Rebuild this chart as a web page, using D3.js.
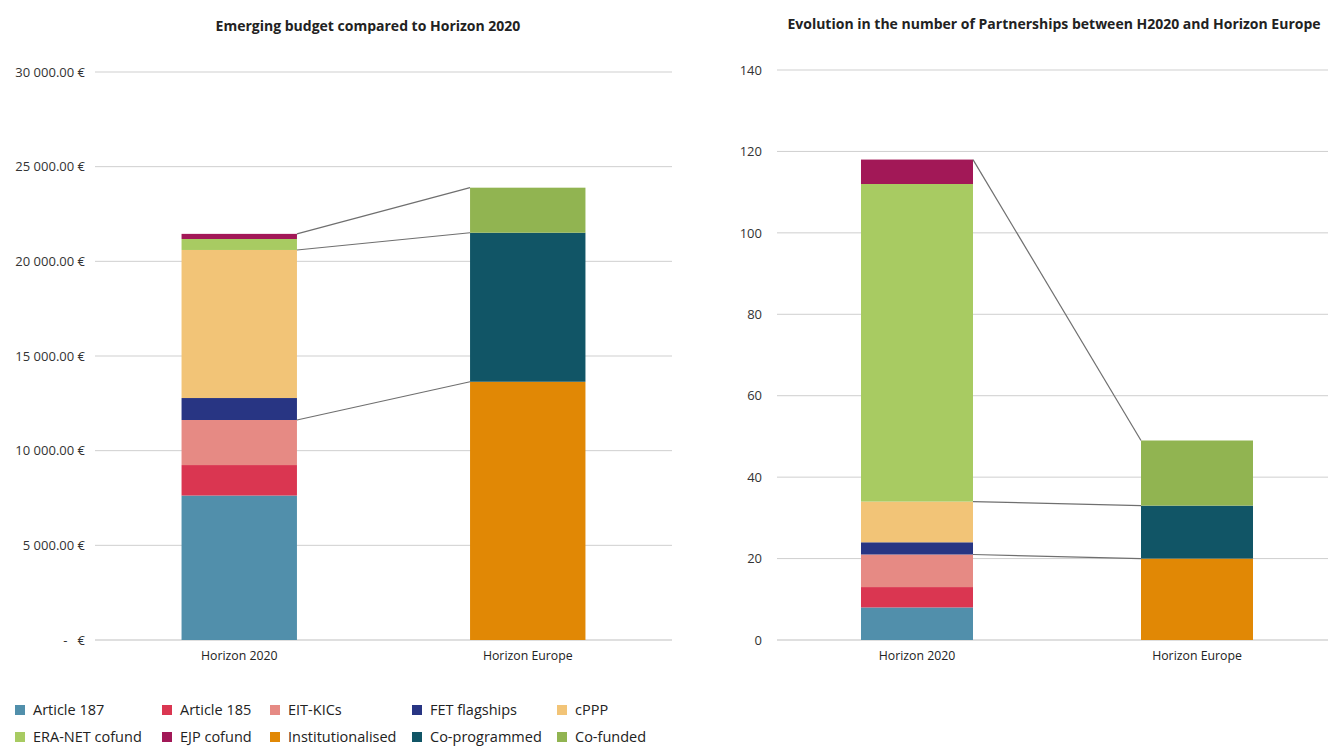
<!DOCTYPE html>
<html><head><meta charset="utf-8">
<script src="https://cdn.jsdelivr.net/npm/d3@7"></script>
<style>
body{margin:0;background:#fff;}
svg{font-family:"Open Sans",Roboto,sans-serif;}
</style></head>
<body>
<svg id="c" width="1328" height="747"></svg>
<script>
const programmes = ["Horizon 2020", "Horizon Europe"];
const seriesNames = ["Article 187","Article 185","EIT-KICs","FET flagships","cPPP","ERA-NET cofund","EJP cofund","Institutionalised","Co-programmed","Co-funded"];
const seriesColors = ["#518fab","#da3651","#e68a84","#283583","#f2c477","#a8cb62","#a21857","#e18805","#115566","#91b451"];
// budget (M€)
const budgetH2020 = [7630, 1610, 2380, 1160, 7820, 580, 270, 0, 0, 0];
const budgetHE    = [0, 0, 0, 0, 0, 0, 0, 13640, 7870, 2380];
// number of partnerships
const countH2020 = [8, 5, 8, 3, 10, 78, 6, 0, 0, 0];
const countHE    = [0, 0, 0, 0, 0, 0, 0, 20, 13, 16];
const budgetTicks = [0, 5000, 10000, 15000, 20000, 25000, 30000];
const countTicks = [0, 20, 40, 60, 80, 100, 120, 140];
// connectors: top of series in H2020 -> top of series in HE
const links = [["EIT-KICs","Institutionalised"],["cPPP","Co-programmed"],["EJP cofund","Co-funded"]];

const svg = d3.select("#c");
const color = d3.scaleOrdinal(seriesNames, seriesColors);

function rows(a, b){
  const r1 = {prog: programmes[0]}, r2 = {prog: programmes[1]};
  seriesNames.forEach((k,i)=>{ r1[k]=a[i]; r2[k]=b[i]; });
  return [r1, r2];
}

function drawChart(opt){
  const g = svg.append("g");
  const data = rows(opt.a, opt.b);
  const stacked = d3.stack().keys(seriesNames)(data);
  const x = d3.scaleBand().domain(programmes).range([opt.x0, opt.x1]).paddingInner(0.6).paddingOuter(0.3);
  const y = d3.scaleLinear().domain([0, opt.max]).range([640, opt.yTop]);

  // gridlines
  g.append("g").selectAll("line").data(opt.ticks).join("line")
    .attr("x1", opt.gx0).attr("x2", opt.gx1)
    .attr("y1", d=>y(d)).attr("y2", d=>y(d))
    .attr("stroke", d=> d===0 ? "#d4d4d4" : "#cfcfcf")
    .attr("stroke-width", d=> d===0 ? 1.5 : 1);

  // y labels
  const yAxis = d3.axisLeft(y).tickValues(opt.ticks).tickSize(0).tickFormat(opt.fmt);
  const ya = g.append("g").attr("transform", `translate(${opt.labelX},0)`).call(yAxis);
  ya.select(".domain").remove();
  ya.selectAll("text").attr("font-size", 13).attr("fill", "#333").attr("x", 0)
    .style("white-space","pre").attr("font-family","'Open Sans', sans-serif");

  // bars
  g.append("g").selectAll("g").data(stacked).join("g").attr("fill", d=>color(d.key))
    .selectAll("rect").data(d=>d.filter(p=>p[1]-p[0]>0)).join("rect")
    .attr("x", d=>x(d.data.prog)).attr("width", x.bandwidth())
    .attr("y", d=>y(d[1])).attr("height", d=>y(d[0])-y(d[1]));

  // connectors
  const top = (key, idx) => stacked.find(s=>s.key===key)[idx][1];
  g.append("g").selectAll("line").data(links).join("line")
    .attr("x1", x(programmes[0]) + x.bandwidth()).attr("x2", x(programmes[1]))
    .attr("y1", d=>y(top(d[0],0))).attr("y2", d=>y(top(d[1],1)))
    .attr("stroke", "#6f6f6f").attr("stroke-width", 1.2);

  // x labels
  const xa = g.append("g").attr("transform", "translate(0,640)")
    .call(d3.axisBottom(x).tickSize(0).tickPadding(11));
  xa.select(".domain").remove();
  xa.selectAll("text").attr("font-size", 12.3).attr("fill", "#222").attr("font-family","'Open Sans', sans-serif");

  // title
  g.append("text").attr("x", opt.titleX).attr("y", opt.titleY).attr("text-anchor","middle")
    .attr("font-size", 14).attr("font-weight","bold").attr("fill","#222").text(opt.title);
}

const eur = d => d===0 ? "-   €" : d3.format(",.2f")(d).replace(/,/g," ") + " €";

drawChart({a: budgetH2020, b: budgetHE, max: 30000, ticks: budgetTicks, fmt: eur,
  x0: 95, x1: 672, gx0: 95, gx1: 672, yTop: 72, labelX: 85,
  title: "Emerging budget compared to Horizon 2020", titleX: 368, titleY: 31});

drawChart({a: countH2020, b: countHE, max: 140, ticks: countTicks, fmt: d3.format("d"),
  x0: 777, x1: 1337, gx0: 777, gx1: 1328, yTop: 70, labelX: 762,
  title: "Evolution in the number of Partnerships between H2020 and Horizon Europe", titleX: 1054, titleY: 29});

// legend
const legX = [15, 162, 270, 412, 557];
const leg = svg.append("g").selectAll("g").data(seriesNames).join("g")
  .attr("transform", (d,i)=>`translate(${legX[i%5]},${i<5 ? 710 : 737})`);
leg.append("rect").attr("x",0).attr("y",-5).attr("width",10).attr("height",10).attr("fill", d=>color(d));
leg.append("text").attr("x",18).attr("y",5).attr("font-size",14.5).attr("fill","#222").text(d=>d);
</script>
</body></html>
